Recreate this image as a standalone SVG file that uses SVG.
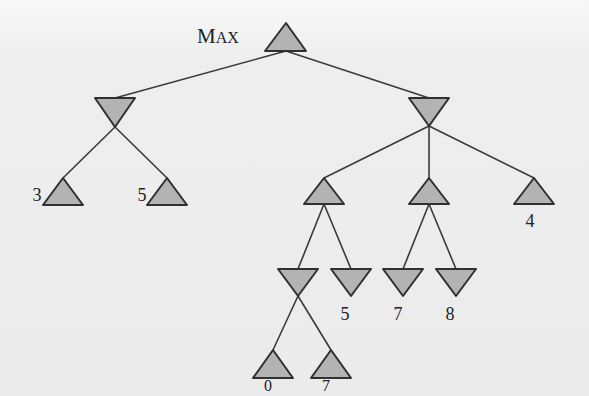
<svg xmlns="http://www.w3.org/2000/svg" width="589" height="396" viewBox="0 0 589 396">
<style>
.e{stroke:#3a3a3a;stroke-width:1.6;fill:none}
.t{fill:#b3b3b3;stroke:#303030;stroke-width:2;stroke-linejoin:round}
.lbl{font-family:"Liberation Serif","Times New Roman",serif;font-size:18px;fill:#222;text-anchor:middle}
</style>
<defs>
<linearGradient id="bgg" x1="0" y1="0" x2="0" y2="1">
<stop offset="0" stop-color="#f8f8f8"/>
<stop offset="0.15" stop-color="#eeeeee"/>
<stop offset="1" stop-color="#ebebeb"/>
</linearGradient>
</defs>
<rect x="0" y="0" width="589" height="396" fill="url(#bgg)"/>
<g id="connectors">
<line class="e" x1="286" y1="51" x2="115" y2="98"/>
<line class="e" x1="286" y1="51" x2="429" y2="98"/>
<line class="e" x1="115" y1="127" x2="63" y2="178"/>
<line class="e" x1="115" y1="127" x2="167" y2="178"/>
<line class="e" x1="429" y1="126" x2="324" y2="178"/>
<line class="e" x1="429" y1="126" x2="429" y2="178"/>
<line class="e" x1="429" y1="126" x2="534" y2="178"/>
<line class="e" x1="324" y1="204" x2="298" y2="269"/>
<line class="e" x1="324" y1="204" x2="351" y2="269"/>
<line class="e" x1="429" y1="204" x2="403" y2="269"/>
<line class="e" x1="429" y1="204" x2="456" y2="269"/>
<line class="e" x1="298" y1="296" x2="273" y2="350"/>
<line class="e" x1="298" y1="296" x2="331" y2="350"/>
</g>
<g id="root">
<polygon class="t" points="286,23 265,51 306,51"/>
<text class="lbl" x="197" y="43" style="text-anchor:start;font-size:21px">M<tspan font-size="16">AX</tspan></text>
</g>
<g id="minL"><polygon class="t" points="95,98 135,98 115,127"/></g>
<g id="minR"><polygon class="t" points="409,98 449,98 429,126"/></g>
<g id="leaf3"><polygon class="t" points="63,178 43,205 83,205"/><text class="lbl" x="37" y="201">3</text></g>
<g id="leaf5a"><polygon class="t" points="167,178 147,205 187,205"/><text class="lbl" x="142" y="201">5</text></g>
<g id="maxA"><polygon class="t" points="324,178 304,204 344,204"/></g>
<g id="maxB"><polygon class="t" points="429,178 409,204 449,204"/></g>
<g id="leaf4"><polygon class="t" points="534,178 514,204 554,204"/><text class="lbl" x="530" y="227">4</text></g>
<g id="minA"><polygon class="t" points="278,269 318,269 298,296"/></g>
<g id="leaf5b"><polygon class="t" points="331,269 371,269 351,296"/><text class="lbl" x="345" y="320">5</text></g>
<g id="leaf7a"><polygon class="t" points="383,269 423,269 403,296"/><text class="lbl" x="398" y="320">7</text></g>
<g id="leaf8"><polygon class="t" points="436,269 476,269 456,296"/><text class="lbl" x="450" y="320">8</text></g>
<g id="leaf0"><polygon class="t" points="273,350 253,378 293,378"/><text class="lbl" x="268" y="391" style="font-size:16px">0</text></g>
<g id="leaf7b"><polygon class="t" points="331,350 311,378 351,378"/><text class="lbl" x="326" y="391" style="font-size:16px">7</text></g>
</svg>
